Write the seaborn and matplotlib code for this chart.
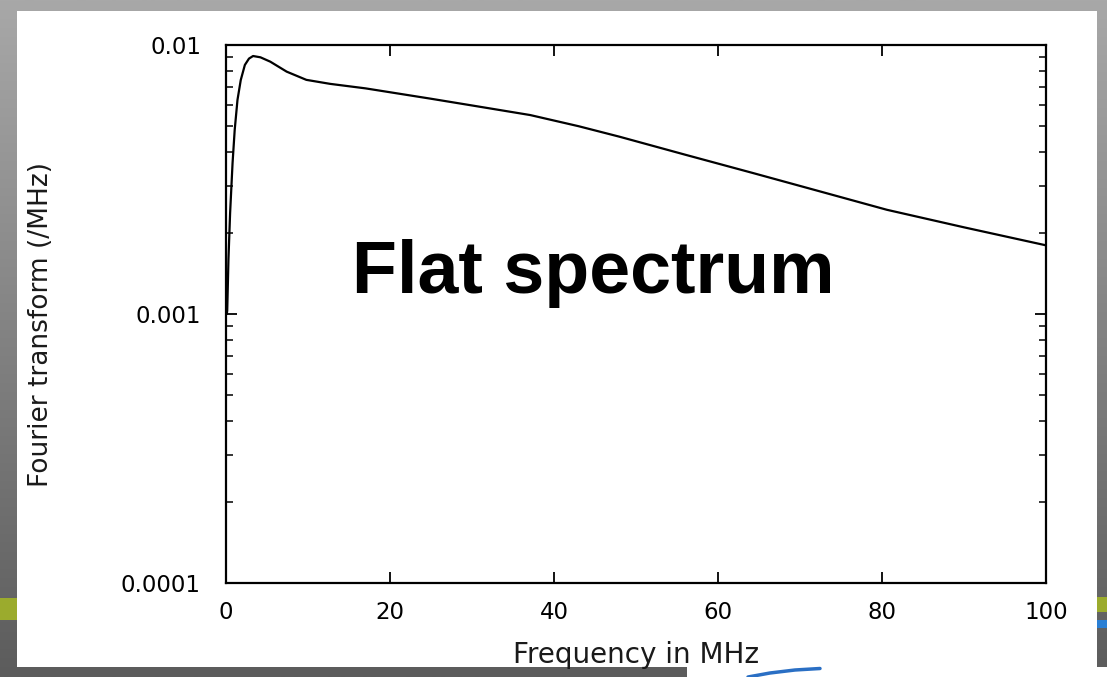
import numpy as np
import matplotlib
matplotlib.use("Agg")
import matplotlib.pyplot as plt
import seaborn as sns
import pandas as pd
from matplotlib.patches import Rectangle
from matplotlib.colors import LinearSegmentedColormap
from matplotlib.ticker import LogLocator, NullFormatter

# ---- data ----
freq_mhz = [0.1, 0.15, 0.3, 0.5, 0.8, 1.06, 1.4, 1.8, 2.3, 2.8, 3.3, 4.2, 5.4,
            7.4, 9.8, 12.7, 17, 24.9, 30, 37.1, 43, 48, 56, 64.3, 72, 80.6, 90, 100]
fourier = [0.00100, 0.00103, 0.0016, 0.00237, 0.00364, 0.00483, 0.00625, 0.00741,
           0.00843, 0.0089, 0.0091, 0.0090, 0.00867, 0.00796, 0.00742, 0.00717,
           0.0069, 0.00632, 0.00596, 0.00549, 0.00499, 0.00456, 0.00391, 0.00334,
           0.00288, 0.00244, 0.0021, 0.0018]
x_ticks = [0, 20, 40, 60, 80, 100]
y_ticks = [0.0001, 0.001, 0.01]
y_tick_labels = ["0.0001", "0.001", "0.01"]
x_label = "Frequency in MHz"
y_label = "Fourier transform (/MHz)"
annotation = "Flat spectrum"

df = pd.DataFrame({"freq": freq_mhz, "ft": fourier})

sns.set_theme(style="ticks")
plt.rcParams['font.family'] = ['DejaVu Sans']

W, H = 1107, 677
fig = plt.figure(figsize=(W / 100, H / 100), dpi=100)

# slide background
bg = fig.add_axes([0, 0, 1, 1], zorder=0)
bg.set_xlim(0, W)
bg.set_ylim(H, 0)
bg.axis('off')
grad = np.linspace(0, 1, 256).reshape(-1, 1)
cmap = LinearSegmentedColormap.from_list('g', ['#a8a8a8', '#5c5c5c'])
bg.imshow(grad, extent=[0, W, H, 0], cmap=cmap, aspect='auto')
bg.add_patch(Rectangle((17, 11), 1080, 656, fc='white', ec='none'))
bg.add_patch(Rectangle((687, 667), 420, 10, fc='white', ec='none'))
bg.add_patch(Rectangle((0, 598), 17, 22, fc='#9bab2d', ec='none'))
bg.add_patch(Rectangle((1097, 597), 10, 15, fc='#9bab2d', ec='none'))
bg.add_patch(Rectangle((1097, 620), 10, 8, fc='#2a7fd4', ec='none'))
bg.plot([748, 770, 795, 820], [677, 673, 670, 668.5], color='#2a6fc4', lw=2.5)

# chart axes
ax = fig.add_axes([226 / W, 1 - 583 / H, 820 / W, 538 / H], zorder=1)
ax.set_facecolor('white')
sns.lineplot(data=df, x="freq", y="ft", ax=ax, color='black', linewidth=1.6,
             estimator=None, sort=False)
ax.set_yscale('log')
ax.set_xlim(0, 100)
ax.set_ylim(1e-4, 1e-2)
ax.set_xticks(x_ticks)
ax.set_xticklabels([str(t) for t in x_ticks])
ax.set_yticks(y_ticks)
ax.set_yticklabels(y_tick_labels)
ax.yaxis.set_minor_locator(LogLocator(base=10, subs=np.arange(2, 10)))
ax.yaxis.set_minor_formatter(NullFormatter())

ax.tick_params(which='both', direction='in', top=True, right=True,
               colors='black', labelcolor='black')
ax.tick_params(which='major', length=8, width=1.3, labelsize=16.5)
ax.tick_params(which='minor', length=5, width=1.1)
ax.tick_params(axis='x', pad=13)
ax.tick_params(axis='y', pad=18)
for s in ax.spines.values():
    s.set_visible(True)
    s.set_color('black')
    s.set_linewidth(1.6)

ax.set_xlabel(x_label, fontsize=20, color='#1a1a1a')
ax.set_ylabel(y_label, fontsize=19, color='#1a1a1a')
ax.xaxis.set_label_coords(0.5, -0.108)
ax.yaxis.set_label_coords(-0.21, 0.48)

ax.text(0.448, 0.539, annotation, transform=ax.transAxes, ha='center',
        va='baseline', fontsize=53, fontweight='bold',
        family=['Liberation Sans', 'DejaVu Sans'], color='black')

fig.savefig("out.png", dpi=100)
